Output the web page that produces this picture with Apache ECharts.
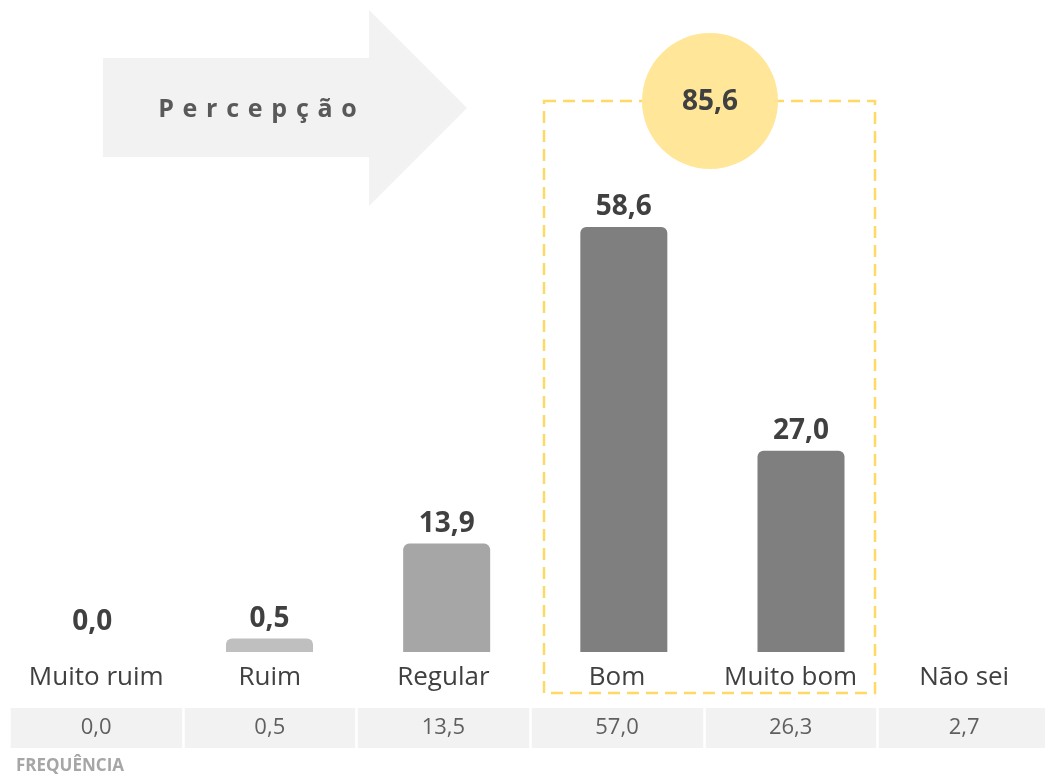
<!DOCTYPE html>
<html>
<head>
<meta charset="utf-8">
<script src="https://cdn.jsdelivr.net/npm/echarts@6/dist/echarts.min.js"></script>
<style>
  html, body { margin: 0; padding: 0; background: #fff; }
  #chart { width: 1045px; height: 775px; }
</style>
</head>
<body>
<div id="chart"></div>
<script>
// ---- data ----
const categories = ['Muito ruim', 'Ruim', 'Regular', 'Bom', 'Muito bom', 'Não sei'];
const percepcao = [0.0, 0.5, 13.9, 58.6, 27.0, null];
const frequencia = [0.0, 0.5, 13.5, 57.0, 26.3, 2.7];
const highlightIdx = [3, 4];           // Bom + Muito bom
const arrowTitle = 'Percepção';
const tableTitle = 'FREQUÊNCIA';

// ---- style ----
const barColors = ['#bfbfbf', '#bfbfbf', '#a6a6a6', '#7f7f7f', '#7f7f7f', '#7f7f7f'];
const fmt = v => v.toFixed(1).replace('.', ',');
const total = highlightIdx.reduce((s, i) => s + percepcao[i], 0);

const chart = echarts.init(document.getElementById('chart'));

const barData = percepcao.map((v, i) => {
  if (v === null) return null;
  return {
    value: v,
    itemStyle: { color: v === 0 ? 'rgba(0,0,0,0)' : barColors[i] }
  };
});

// letter-spaced title for the arrow
const titleFont = 'bold 25px "Open Sans"';
const mctx = document.createElement('canvas').getContext('2d');
mctx.font = titleFont;
const letters = arrowTitle.split('');
const spacing = 8.75;
const widths = letters.map(ch => mctx.measureText(ch).width);
const totalW = widths.reduce((a, b) => a + b, 0) + spacing * (letters.length - 1);
let cursor = 257.5 - totalW / 2;
const letterGraphics = letters.map((ch, i) => {
  const g = {
    type: 'text', z: 2,
    style: { text: ch, x: cursor, y: 110, align: 'left', verticalAlign: 'middle', fill: '#595959', font: titleFont }
  };
  cursor += widths[i] + spacing;
  return g;
});

const option = {
  backgroundColor: '#ffffff',
  animation: false,
  textStyle: { fontFamily: '"Open Sans", sans-serif' },
  grid: [
    { left: 3.75, right: -21.75, top: 75.4, height: 576.6, outerBoundsMode: 'none', containLabel: false },
    { left: 9.4, width: 1041.6, top: 708, height: 40, outerBoundsMode: 'none', containLabel: false }
  ],
  xAxis: [
    {
      gridIndex: 0, type: 'category', data: categories, show: false
    },
    {
      gridIndex: 1, type: 'category', data: categories, position: 'top',
      axisLine: { show: false }, axisTick: { show: false },
      axisLabel: { show: true, fontSize: 26, color: '#404040', margin: 17, interval: 0 },
      splitArea: { show: true, interval: 0, areaStyle: { color: ['#f2f2f2', '#f2f2f2'] } },
      splitLine: { show: true, interval: 0, lineStyle: { color: '#ffffff', width: 2.5 } }
    }
  ],
  yAxis: [
    { gridIndex: 0, type: 'value', min: -1.4, max: 80, startValue: -1.4, show: false },
    { gridIndex: 1, type: 'value', min: 0, max: 1, show: false }
  ],
  series: [
    {
      type: 'bar',
      xAxisIndex: 0, yAxisIndex: 0,
      data: barData,
      barWidth: 87,
      itemStyle: { borderRadius: [6, 6, 0, 0] },
      label: {
        show: true, position: 'top', distance: 6,
        fontSize: 28, fontWeight: 'bold', color: '#404040',
        formatter: p => fmt(p.value)
      }
    },
    {
      type: 'scatter',
      xAxisIndex: 1, yAxisIndex: 1,
      symbolSize: 0,
      data: frequencia.map((v, i) => [i, 0.5, v]),
      label: {
        show: true, position: 'inside',
        fontSize: 22, color: '#3a3a3a',
        formatter: p => fmt(p.value[2])
      }
    }
  ],
  graphic: [
    {
      type: 'polygon', z: 1,
      shape: { points: [[103, 58], [369, 58], [369, 10], [467, 108], [369, 206], [369, 157], [103, 157]] },
      style: { fill: '#f2f2f2' }
    },
    ...letterGraphics,
    {
      type: 'rect', z: 3,
      shape: { x: 544, y: 101, width: 331, height: 592 },
      style: { fill: null, stroke: '#ffd966', lineWidth: 2.5, lineDash: [12, 7] }
    },
    {
      type: 'circle', z: 4,
      shape: { cx: 710, cy: 101, r: 68 },
      style: { fill: '#ffe699' }
    },
    {
      type: 'text', z: 5,
      style: {
        text: fmt(total),
        x: 710, y: 102, align: 'center', verticalAlign: 'middle',
        fill: '#404040', font: 'bold 28px "Open Sans"'
      }
    },
    {
      type: 'text', z: 5,
      style: {
        text: tableTitle,
        x: 16, y: 766, align: 'left', verticalAlign: 'middle',
        fill: '#a6a6a6', font: 'bold 17px "Open Sans"'
      }
    }
  ]
};

chart.setOption(option);
</script>
</body>
</html>
